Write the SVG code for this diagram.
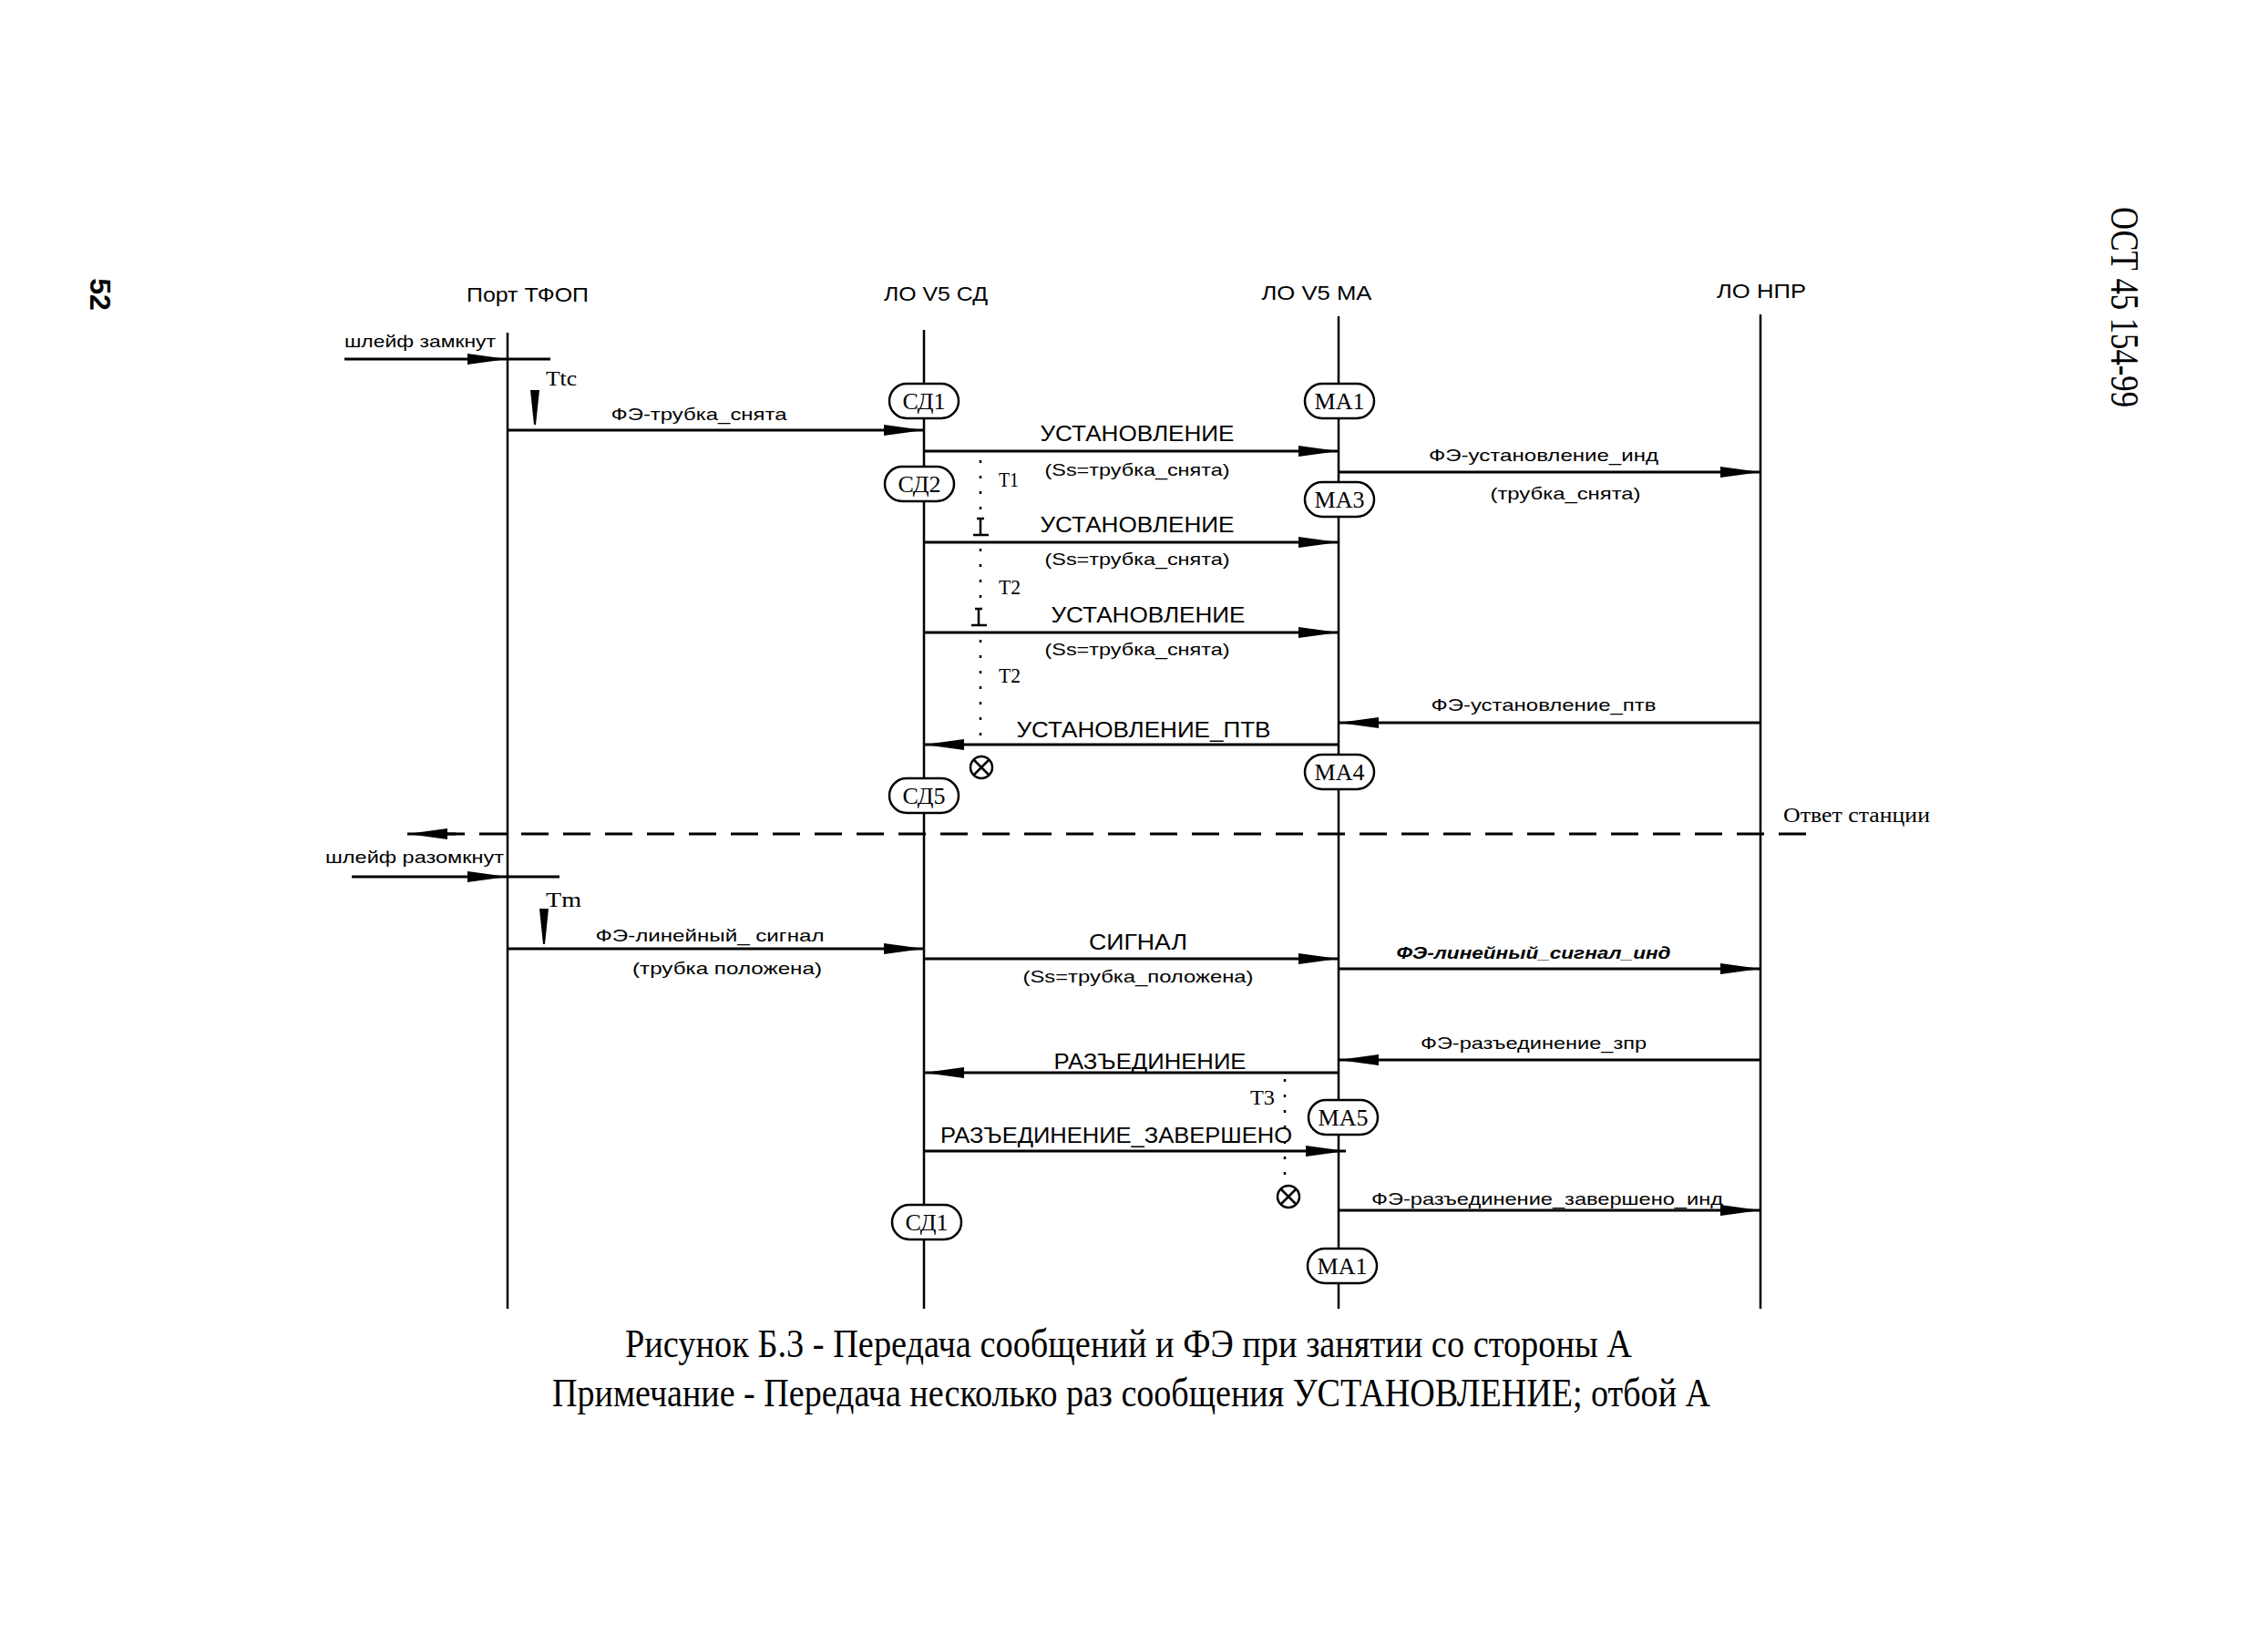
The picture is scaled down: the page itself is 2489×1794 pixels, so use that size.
<svg xmlns="http://www.w3.org/2000/svg" width="2489" height="1794" viewBox="0 0 2489 1794">
<style>
.ll{stroke:#000;stroke-width:2.5;fill:none}
.msg{stroke:#000;stroke-width:3;fill:none;marker-end:url(#ah)}
.ln{stroke:#000;stroke-width:3;fill:none}
.dash{stroke:#000;stroke-width:3;fill:none;stroke-dasharray:30 16}
.dot{stroke:#000;stroke-width:2.5;fill:none;stroke-dasharray:3 14}
.node rect{fill:#fff;stroke:#000;stroke-width:2.5}
.node text{font-family:"Liberation Serif",serif;font-size:26px;text-anchor:middle}
.hd{font-family:"Liberation Sans",Arial,sans-serif;font-size:22px;text-anchor:middle}
.lbl{font-family:"Liberation Sans",Arial,sans-serif;font-size:19px}
.m{text-anchor:middle}
.cap{font-family:"Liberation Sans",Arial,sans-serif;font-size:24px;text-anchor:middle}
.t{font-family:"Liberation Serif",serif;font-size:23px}
.cp{font-family:"Liberation Serif",serif;font-size:44px}
</style>
<defs>
<marker id="ah" viewBox="0 0 44 12" refX="44" refY="6" markerWidth="44" markerHeight="12" markerUnits="userSpaceOnUse" orient="auto">
<path d="M0,0 L44,6 L0,12 Z" fill="#000"/>
</marker>
</defs>
<rect width="2489" height="1794" fill="#fff"/>

<!-- page marks -->
<text class="cp" transform="translate(2329,337) rotate(90)" x="0" y="12" text-anchor="middle" font-size="36" textLength="220" lengthAdjust="spacingAndGlyphs">ОСТ 45 154-99</text>
<text transform="translate(110,323) rotate(90)" x="0" y="11" text-anchor="middle" font-family="Liberation Sans, Arial, sans-serif" font-weight="bold" font-size="32">52</text>

<!-- lifelines and headers -->
<g id="port">
<text class="hd" x="579" y="331" textLength="134" lengthAdjust="spacingAndGlyphs">Порт ТФОП</text>
<line class="ll" x1="557" y1="365" x2="557" y2="1436"/>
</g>
<g id="sd">
<text class="hd" x="1027" y="330" textLength="114" lengthAdjust="spacingAndGlyphs">ЛО V5 СД</text>
<line class="ll" x1="1014" y1="362" x2="1014" y2="1436"/>
</g>
<g id="ma">
<text class="hd" x="1445" y="329" textLength="121" lengthAdjust="spacingAndGlyphs">ЛО V5 МА</text>
<line class="ll" x1="1469" y1="347" x2="1469" y2="1436"/>
</g>
<g id="npr">
<text class="hd" x="1933" y="327" textLength="98" lengthAdjust="spacingAndGlyphs">ЛО НПР</text>
<line class="ll" x1="1932" y1="345" x2="1932" y2="1436"/>
</g>

<!-- connectors -->
<g id="connectors">
<line class="msg" x1="378" y1="394" x2="557" y2="394"/>
<line class="ln" x1="557" y1="394" x2="604" y2="394"/>
<line class="msg" x1="557" y1="472" x2="1014" y2="472"/>
<line class="msg" x1="1014" y1="495" x2="1469" y2="495"/>
<line class="msg" x1="1469" y1="518" x2="1932" y2="518"/>
<line class="msg" x1="1014" y1="595" x2="1469" y2="595"/>
<line class="msg" x1="1014" y1="694" x2="1469" y2="694"/>
<line class="msg" x1="1932" y1="793" x2="1469" y2="793"/>
<line class="msg" x1="1469" y1="817" x2="1014" y2="817"/>
<line class="dash" x1="1982" y1="915" x2="491" y2="915"/>
<line class="msg" x1="500" y1="915" x2="447" y2="915"/>
<line class="msg" x1="386" y1="962" x2="557" y2="962"/>
<line class="ln" x1="557" y1="962" x2="614" y2="962"/>
<line class="msg" x1="557" y1="1041" x2="1014" y2="1041"/>
<line class="msg" x1="1014" y1="1052" x2="1469" y2="1052"/>
<line class="msg" x1="1469" y1="1063" x2="1932" y2="1063"/>
<line class="msg" x1="1932" y1="1163" x2="1469" y2="1163"/>
<line class="msg" x1="1469" y1="1177" x2="1014" y2="1177"/>
<line class="msg" x1="1014" y1="1263" x2="1477" y2="1263"/>
<line class="msg" x1="1469" y1="1328" x2="1932" y2="1328"/>
<!-- timers -->
<path d="M582,428 L592,428 L588,466 L586,466 Z" fill="#000"/>
<path d="M592,997 L602,997 L598,1036 L596,1036 Z" fill="#000"/>
<line class="dot" x1="1076" y1="505" x2="1076" y2="566"/>
<line class="dot" x1="1076" y1="602" x2="1076" y2="666"/>
<line class="dot" x1="1076" y1="702" x2="1076" y2="808"/>
<line class="dot" x1="1410" y1="1184" x2="1410" y2="1296"/>
<path d="M1072,569 L1080,569 M1076,569 L1076,586 M1068,587 L1085,587" stroke="#000" stroke-width="2.5" fill="none"/>
<path d="M1070,668 L1078,668 M1074,668 L1074,685 M1066,686 L1083,686" stroke="#000" stroke-width="2.5" fill="none"/>
<g stroke="#000" stroke-width="2.5" fill="none">
<circle cx="1077" cy="842" r="12"/>
<path d="M1068.5,833.5 L1085.5,850.5 M1085.5,833.5 L1068.5,850.5"/>
<circle cx="1414" cy="1313" r="12"/>
<path d="M1405.5,1304.5 L1422.5,1321.5 M1422.5,1304.5 L1405.5,1321.5"/>
</g>
</g>

<!-- labels -->
<g id="labels">
<text class="lbl" x="378" y="381" textLength="166" lengthAdjust="spacingAndGlyphs">шлейф замкнут</text>
<text class="t" x="599" y="423" textLength="34" lengthAdjust="spacingAndGlyphs">Ttc</text>
<text class="lbl m" x="767" y="461" font-size="20" textLength="193" lengthAdjust="spacingAndGlyphs">ФЭ-трубка_снята</text>
<text class="cap" x="1248" y="484" textLength="213" lengthAdjust="spacingAndGlyphs">УСТАНОВЛЕНИЕ</text>
<text class="lbl m" x="1248" y="522" textLength="203" lengthAdjust="spacingAndGlyphs">(Ss=трубка_снята)</text>
<text class="lbl m" x="1694" y="506" textLength="252" lengthAdjust="spacingAndGlyphs">ФЭ-установление_инд</text>
<text class="lbl m" x="1718" y="548" textLength="165" lengthAdjust="spacingAndGlyphs">(трубка_снята)</text>
<text class="t" x="1096" y="534" textLength="22" lengthAdjust="spacingAndGlyphs">T1</text>
<text class="cap" x="1248" y="584" textLength="213" lengthAdjust="spacingAndGlyphs">УСТАНОВЛЕНИЕ</text>
<text class="lbl m" x="1248" y="620" textLength="203" lengthAdjust="spacingAndGlyphs">(Ss=трубка_снята)</text>
<text class="t" x="1096" y="652" textLength="24" lengthAdjust="spacingAndGlyphs">T2</text>
<text class="cap" x="1260" y="683" textLength="213" lengthAdjust="spacingAndGlyphs">УСТАНОВЛЕНИЕ</text>
<text class="lbl m" x="1248" y="719" textLength="203" lengthAdjust="spacingAndGlyphs">(Ss=трубка_снята)</text>
<text class="t" x="1096" y="749" textLength="24" lengthAdjust="spacingAndGlyphs">T2</text>
<text class="lbl m" x="1694" y="780" textLength="247" lengthAdjust="spacingAndGlyphs">ФЭ-установление_птв</text>
<text class="cap" x="1255" y="809" textLength="279" lengthAdjust="spacingAndGlyphs">УСТАНОВЛЕНИЕ_ПТВ</text>
<text class="t" x="1957" y="902" font-size="25" textLength="161" lengthAdjust="spacingAndGlyphs">Ответ станции</text>
<text class="lbl" x="357" y="947" textLength="196" lengthAdjust="spacingAndGlyphs">шлейф разомкнут</text>
<text class="t" x="599" y="995" textLength="39" lengthAdjust="spacingAndGlyphs">Tm</text>
<text class="lbl m" x="779" y="1033" textLength="251" lengthAdjust="spacingAndGlyphs">ФЭ-линейный_ сигнал</text>
<text class="lbl m" x="798" y="1069" textLength="208" lengthAdjust="spacingAndGlyphs">(трубка положена)</text>
<text class="cap" x="1249" y="1042" textLength="108" lengthAdjust="spacingAndGlyphs">СИГНАЛ</text>
<text class="lbl m" x="1249" y="1078" textLength="253" lengthAdjust="spacingAndGlyphs">(Ss=трубка_положена)</text>
<text class="lbl m" x="1683" y="1052" font-weight="bold" font-style="italic" textLength="301" lengthAdjust="spacingAndGlyphs">ФЭ-линейный_сигнал_инд</text>
<text class="lbl m" x="1683" y="1151" textLength="248" lengthAdjust="spacingAndGlyphs">ФЭ-разъединение_зпр</text>
<text class="cap" x="1262" y="1173" textLength="211" lengthAdjust="spacingAndGlyphs">РАЗЪЕДИНЕНИЕ</text>
<text class="t" x="1372" y="1212" textLength="27" lengthAdjust="spacingAndGlyphs">T3</text>
<text class="cap" x="1225" y="1254" textLength="386" lengthAdjust="spacingAndGlyphs">РАЗЪЕДИНЕНИЕ_ЗАВЕРШЕНО</text>
<text class="lbl" x="1505" y="1322" textLength="386" lengthAdjust="spacingAndGlyphs">ФЭ-разъединение_завершено_инд</text>
</g>

<!-- state nodes -->
<g id="sd1" class="node"><rect x="976" y="421" width="76" height="38" rx="19"/><text x="1014" y="449">СД1</text></g>
<g id="ma1" class="node"><rect x="1432" y="421" width="76" height="38" rx="19"/><text x="1470" y="449">МА1</text></g>
<g id="sd2" class="node"><rect x="971" y="512" width="76" height="38" rx="19"/><text x="1009" y="540">СД2</text></g>
<g id="ma3" class="node"><rect x="1432" y="529" width="76" height="38" rx="19"/><text x="1470" y="557">МА3</text></g>
<g id="ma4" class="node"><rect x="1432" y="828" width="76" height="38" rx="19"/><text x="1470" y="856">МА4</text></g>
<g id="sd5" class="node"><rect x="976" y="854" width="76" height="38" rx="19"/><text x="1014" y="882">СД5</text></g>
<g id="ma5" class="node"><rect x="1436" y="1207" width="76" height="38" rx="19"/><text x="1474" y="1235">МА5</text></g>
<g id="sd1b" class="node"><rect x="979" y="1322" width="76" height="38" rx="19"/><text x="1017" y="1350">СД1</text></g>
<g id="ma1b" class="node"><rect x="1435" y="1370" width="76" height="38" rx="19"/><text x="1473" y="1398">МА1</text></g>

<!-- caption -->
<g id="caption">
<text class="cp" x="686" y="1489" textLength="1105" lengthAdjust="spacingAndGlyphs">Рисунок Б.3 - Передача сообщений и ФЭ при занятии со стороны А</text>
<text class="cp" x="606" y="1543" textLength="1271" lengthAdjust="spacingAndGlyphs">Примечание - Передача несколько раз сообщения УСТАНОВЛЕНИЕ; отбой А</text>
</g>
</svg>
